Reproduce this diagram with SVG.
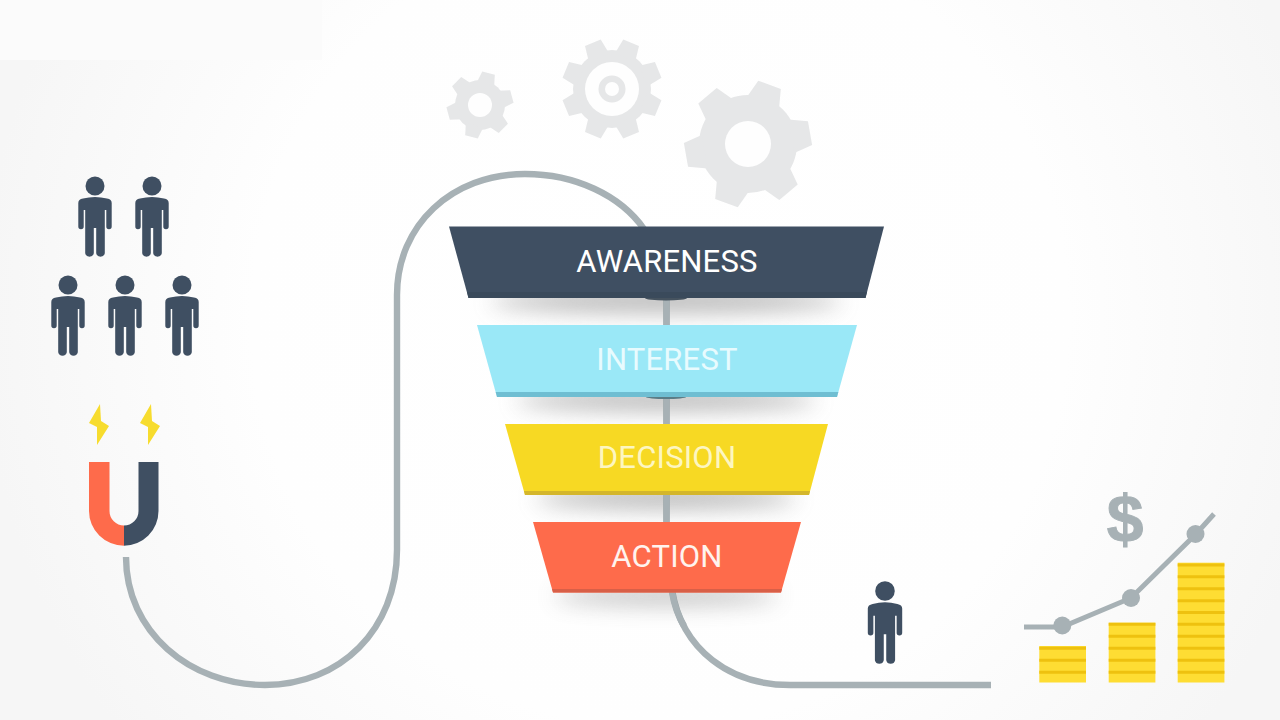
<svg xmlns="http://www.w3.org/2000/svg" xmlns:xlink="http://www.w3.org/1999/xlink" width="1280" height="720" viewBox="0 0 1280 720">
<style>
.wire{fill:none;stroke:#a7b1b5;stroke-width:6.400}
.gear{fill:#e6e7e8}
.dark{fill:#3f4f62}
.lbl{font-family:Roboto,"Liberation Sans",sans-serif;font-size:31px;text-anchor:middle;letter-spacing:.2px}
.bar{fill:#fedd33}
.stripe{fill:none;stroke:#eec10f;stroke-width:3}
.bolt{fill:#f7dc2e}
.dot{fill:#a7b1b5}
</style>
<defs>
<radialGradient id="bg" gradientUnits="userSpaceOnUse" cx="660" cy="320" r="680">
<stop offset="0" stop-color="#ffffff"/><stop offset="0.6" stop-color="#fefefe"/><stop offset="0.85" stop-color="#f9f9f9"/><stop offset="1" stop-color="#f6f6f6"/>
</radialGradient>
<filter id="blur" x="-30%" y="-200%" width="160%" height="500%"><feGaussianBlur stdDeviation="11"/></filter>
<polygon id="t64" points="-17,-44 -12,-63 12,-63 17,-44"/>
<polygon id="t50" points="-11,-34 -8.5,-50 8.5,-50 11,-34"/>
<polygon id="t33" points="-9,-21 -6.5,-33 6.5,-33 9,-21"/>
<g id="man">
<circle cx="0" cy="0" r="9.5"/>
<path d="M-16.7,17 Q-16.7,13.500 -12,12.600 Q-6,11 0,11 Q6,11 12,12.600 Q16.700,13.500 16.700,17 V40.500 A2.700,2.700 0 0 1 11.300,40.500 V24 H9.800 V67.200 A4.400,4.400 0 0 1 1.200,67.200 V42 H-1.200 V67.200 A4.400,4.400 0 0 1 -9.800,67.200 V24 H-11.300 V40.500 A2.700,2.700 0 0 1 -16.700,40.500 Z"/>
</g>
</defs>
<rect width="1280" height="720" fill="url(#bg)"/>
<rect x="0" y="0" width="322" height="60" fill="#fbfbfb"/>

<g id="connectors">
<path class="wire" d="M126,557 C126,632 190,685 265,685 C340,685 397,630 397,550 V295 C397,225 452,174 525,174 C575,174 620,195 644,229"/>
<path class="wire" d="M666.500,296 V526"/>
<path class="wire" d="M672,590 C682,650 730,685 790,685 H991"/>
</g>

<g id="gear-small" class="gear">
<circle cx="480" cy="105" r="25"/>
<use xlink:href="#t33" href="#t33" transform="translate(480,105) rotate(15)"/>
<use xlink:href="#t33" href="#t33" transform="translate(480,105) rotate(75)"/>
<use xlink:href="#t33" href="#t33" transform="translate(480,105) rotate(135)"/>
<use xlink:href="#t33" href="#t33" transform="translate(480,105) rotate(195)"/>
<use xlink:href="#t33" href="#t33" transform="translate(480,105) rotate(255)"/>
<use xlink:href="#t33" href="#t33" transform="translate(480,105) rotate(315)"/>
<circle cx="480" cy="105" r="12" fill="#fefefe"/>
</g>
<g id="gear-medium" class="gear">
<circle cx="612" cy="89" r="39"/>
<use xlink:href="#t50" href="#t50" transform="translate(612,89) rotate(22.5)"/>
<use xlink:href="#t50" href="#t50" transform="translate(612,89) rotate(67.5)"/>
<use xlink:href="#t50" href="#t50" transform="translate(612,89) rotate(112.5)"/>
<use xlink:href="#t50" href="#t50" transform="translate(612,89) rotate(157.5)"/>
<use xlink:href="#t50" href="#t50" transform="translate(612,89) rotate(202.5)"/>
<use xlink:href="#t50" href="#t50" transform="translate(612,89) rotate(247.5)"/>
<use xlink:href="#t50" href="#t50" transform="translate(612,89) rotate(292.5)"/>
<use xlink:href="#t50" href="#t50" transform="translate(612,89) rotate(337.5)"/>
<circle cx="612" cy="89" r="27" fill="#fefefe"/>
<circle cx="612" cy="89" r="13.500"/>
<circle cx="612" cy="89" r="7" fill="#fefefe"/>
</g>
<g id="gear-large" class="gear">
<circle cx="748" cy="144" r="49"/>
<use xlink:href="#t64" href="#t64" transform="translate(748,144) rotate(20)"/>
<use xlink:href="#t64" href="#t64" transform="translate(748,144) rotate(80)"/>
<use xlink:href="#t64" href="#t64" transform="translate(748,144) rotate(140)"/>
<use xlink:href="#t64" href="#t64" transform="translate(748,144) rotate(200)"/>
<use xlink:href="#t64" href="#t64" transform="translate(748,144) rotate(260)"/>
<use xlink:href="#t64" href="#t64" transform="translate(748,144) rotate(320)"/>
<circle cx="748" cy="144" r="23" fill="#fefefe"/>
</g>

<g id="people" class="dark">
<use xlink:href="#man" href="#man" x="95" y="186"/>
<use xlink:href="#man" href="#man" x="152" y="186"/>
<use xlink:href="#man" href="#man" x="68" y="285"/>
<use xlink:href="#man" href="#man" x="125" y="285"/>
<use xlink:href="#man" href="#man" x="182" y="285"/>
</g>

<g id="magnet">
<path class="bolt" d="M100,404 L89,423 L97,427 L97,445 L109,426 L101,421 Z"/>
<path class="bolt" d="M151,404 L140,423 L148,427 L148,445 L160,426 L152,421 Z"/>
<path fill="#fe6b4b" d="M89,462 H109.500 V511 A14.500,14.500 0 0 0 124,525.500 V545.700 A35,34.700 0 0 1 89,511 Z"/>
<path class="dark" d="M158.500,462 H138.500 V511 A14.500,14.500 0 0 1 124,525.500 V545.700 A34.500,34.700 0 0 0 158.500,511 Z"/>
</g>

<g id="funnel-shadows">
<ellipse cx="666" cy="301" rx="175" ry="11" fill="#777" opacity=".55" filter="url(#blur)"/>
<ellipse cx="666" cy="400" rx="150" ry="10" fill="#777" opacity=".55" filter="url(#blur)"/>
<ellipse cx="666" cy="498" rx="130" ry="10" fill="#777" opacity=".55" filter="url(#blur)"/>
<ellipse cx="666" cy="596" rx="112" ry="9" fill="#777" opacity=".45" filter="url(#blur)"/>
</g>
<path class="wire" d="M666.500,300 V325 M666.500,398 V424 M666.500,495 V522 M672,592 C674,604 678,616 684,626"/>
<g id="funnel-seams">
<ellipse cx="666" cy="298" rx="21" ry="2.500" fill="#46535f"/>
<ellipse cx="666" cy="397" rx="20" ry="2" fill="#5b7c86"/>
</g>

<g id="awareness">
<polygon points="449,226.500 884,226.500 865.500,298 468.500,298" fill="#3f4f62"/>
<polygon points="467,292 867,292 865.500,298 468.500,298" fill="#3a4a5b"/>
<text class="lbl" x="667" y="271.500" fill="#ffffff">AWARENESS</text>
</g>
<g id="interest">
<polygon points="477,325 857,325 837,397 497,397" fill="#9ae8f7"/>
<polygon points="495.700,392 838.300,392 837,397 497,397" fill="#6fbed2"/>
<text class="lbl" x="667" y="369.500" fill="#e8fbfe">INTEREST</text>
</g>
<g id="decision">
<polygon points="505,424 828,424 809,495 525,495" fill="#f7d923"/>
<polygon points="524,491 810,491 809,495 525,495" fill="#d4b62b"/>
<text class="lbl" x="667" y="468" fill="#fdf6c0">DECISION</text>
</g>
<g id="action">
<polygon points="533,522 801,522 781,592.500 553,592.500" fill="#fe6b4b"/>
<polygon points="552,589 782,589 781,592.500 553,592.500" fill="#d85f47"/>
<text class="lbl" x="667" y="566.500" fill="#fff3ee">ACTION</text>
</g>

<g id="person" class="dark"><use xlink:href="#man" href="#man" transform="translate(885,591) scale(1.03)"/></g>

<g id="chart">
<rect class="bar" x="1039.300" y="646" width="46.700" height="36.500"/>
<rect class="bar" x="1108.700" y="622.700" width="46.700" height="59.800"/>
<rect class="bar" x="1177.700" y="562.700" width="46.700" height="119.800"/>
<path class="stripe" d="M1039.300,648.300H1086M1039.300,660.300H1086M1039.300,672.300H1086M1108.700,624.300H1155.400M1108.700,636.300H1155.400M1108.700,648.300H1155.400M1108.700,660.300H1155.400M1108.700,672.300H1155.400M1177.700,565H1224.400M1177.700,576.700H1224.400M1177.700,588.700H1224.400M1177.700,600.700H1224.400M1177.700,612.500H1224.400M1177.700,624.300H1224.400M1177.700,636.300H1224.400M1177.700,648.300H1224.400M1177.700,660.300H1224.400M1177.700,672.300H1224.400"/>
<path class="wire" style="stroke-width:5" d="M1024,627 H1062 L1131,598 L1196,534 L1214,514"/>
<circle class="dot" cx="1062.300" cy="625.500" r="9"/>
<circle class="dot" cx="1131" cy="598" r="9"/>
<circle class="dot" cx="1195.500" cy="534" r="9"/>
<text x="1125" y="542" font-family="Liberation Sans,sans-serif" font-weight="700" font-size="66" text-anchor="middle" fill="#a7b1b5" stroke="#a7b1b5" stroke-width="1">$</text>
</g>
</svg>
